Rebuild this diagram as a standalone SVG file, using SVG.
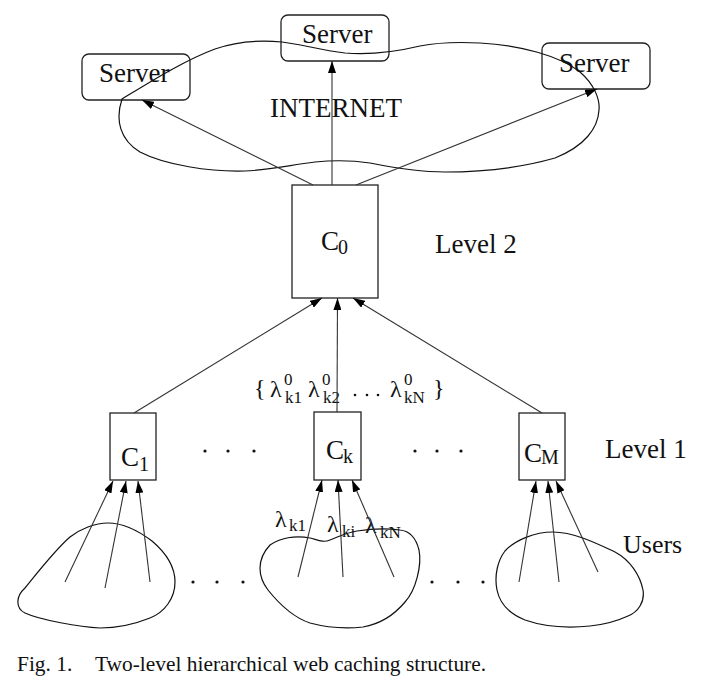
<svg xmlns="http://www.w3.org/2000/svg" width="702" height="698" viewBox="0 0 702 698">
<style>
text{font-family:"Liberation Serif","Times New Roman",serif;fill:#111}
.lbl{font-size:27px}
.sub{font-size:20px}
.lam{font-size:24px}
.ls{font-size:17px}
.box{fill:none;stroke:#222;stroke-width:1.3}
.curve{fill:none;stroke:#111;stroke-width:1.2}
.con{fill:none;stroke:#333;stroke-width:1.1;marker-end:url(#ah)}
.dot{fill:#111}
</style>
<defs>
<marker id="ah" markerUnits="userSpaceOnUse" markerWidth="12" markerHeight="8" refX="12" refY="4" orient="auto">
<path d="M0,0 L12,4 L0,8 z" fill="#000"/>
</marker>
</defs>
<rect width="702" height="698" fill="#fff"/>

<g id="server-left"><rect class="box" x="82" y="54" width="108" height="46" rx="7"/><text class="lbl" x="99" y="82">Server</text></g>
<g id="server-mid"><rect class="box" x="281" y="15" width="108" height="46" rx="7"/><text class="lbl" x="302" y="43">Server</text></g>
<g id="server-right"><rect class="box" x="542" y="43" width="108" height="46" rx="7"/><text class="lbl" x="559" y="72">Server</text></g>

<g id="internet">
<path class="curve" d="M122,99 C150,82 185,60 215,49 C235,42 260,40 282,42 C300,44 320,50 345,53 C370,55 395,52 420,46 C440,42 460,42 480,43 C520,45 560,56 580,72 C595,85 600,100 599,110 C598,128 585,146 555,158 C520,168 480,172 445,172 C420,172 395,168 370,163 C350,160 335,160 315,162 C290,165 270,170 245,171 C210,172 165,165 140,152 C120,140 115,120 122,99 Z"/>
<text class="lbl" x="270" y="117">INTERNET</text>
</g>

<g id="c0"><rect class="box" x="292" y="185" width="86" height="113"/><text class="lbl" x="321" y="250">C</text><text class="sub" x="338" y="254">0</text></g>
<text id="level2" class="lbl" x="435" y="253">Level 2</text>

<g id="c1"><rect class="box" x="110" y="413" width="46" height="67"/><text class="lbl" x="121" y="466">C</text><text class="sub" x="139" y="471">1</text></g>
<g id="ck"><rect class="box" x="314" y="412" width="47" height="68"/><text class="lbl" x="326" y="459">C</text><text class="sub" x="343" y="463">k</text></g>
<g id="cm"><rect class="box" x="519" y="413" width="46" height="67"/><text class="lbl" x="524" y="462">C</text><text class="sub" x="541" y="464">M</text></g>
<text id="level1" class="lbl" x="605" y="458">Level 1</text>

<g id="rates-set">
<text class="lam" x="254" y="396">{</text>
<text class="lam" x="270" y="397">λ</text><text class="ls" x="284" y="385">0</text><text class="ls" x="285" y="403">k1</text>
<text class="lam" x="308" y="397">λ</text><text class="ls" x="322" y="385">0</text><text class="ls" x="323" y="403">k2</text>
<circle class="dot" cx="355" cy="395" r="1.3"/><circle class="dot" cx="367" cy="395" r="1.3"/><circle class="dot" cx="378" cy="395" r="1.3"/>
<text class="lam" x="390" y="397">λ</text><text class="ls" x="404" y="385">0</text><text class="ls" x="404" y="403">kN</text>
<text class="lam" x="433" y="396">}</text>
</g>

<g id="dots">
<circle class="dot" cx="205" cy="451" r="1.6"/><circle class="dot" cx="228" cy="451" r="1.6"/><circle class="dot" cx="254" cy="451" r="1.6"/>
<circle class="dot" cx="415" cy="451" r="1.6"/><circle class="dot" cx="437" cy="451" r="1.6"/><circle class="dot" cx="461" cy="451" r="1.6"/>
<circle class="dot" cx="193" cy="582" r="1.6"/><circle class="dot" cx="217" cy="582" r="1.6"/><circle class="dot" cx="243" cy="582" r="1.6"/>
<circle class="dot" cx="432" cy="582" r="1.6"/><circle class="dot" cx="458" cy="582" r="1.6"/><circle class="dot" cx="483" cy="582" r="1.6"/>
</g>

<g id="users1"><path class="curve" d="M108,523 C125,523 140,532 152,541 C165,552 175,565 175,582 C175,598 165,612 150,618 C135,624 118,628 100,628 C80,627 40,620 25,613 C15,608 16,596 25,588 C38,572 55,550 70,537 C80,529 95,523 108,523 Z"/></g>
<g id="users2">
<path class="curve" d="M270,545 C280,538 295,535 310,538 C318,540 323,543 330,540 C338,537 345,533 357,531 C370,529 385,528 400,530 C410,531 416,538 419,550 C422,565 416,590 405,602 C395,614 380,624 363,627 C345,629 325,627 310,623 C295,618 280,605 268,590 C258,577 256,560 270,545 Z"/>
<text class="lam" x="275" y="527">λ</text><text class="ls" x="289" y="531">k1</text>
<text class="lam" x="327" y="532">λ</text><text class="ls" x="342" y="537">ki</text>
<text class="lam" x="365" y="533">λ</text><text class="ls" x="380" y="538">kN</text>
</g>
<g id="users3">
<path class="curve" d="M553,532 C575,532 600,545 615,552 C630,560 640,575 643,590 C645,602 638,612 628,616 C615,622 600,625 590,626 C570,628 545,627 525,620 C510,614 500,605 497,590 C494,575 498,560 505,551 C515,540 535,532 553,532 Z"/>
<text class="lbl" x="623" y="553" style="font-size:26px">Users</text>
</g>

<g id="connectors">
<line class="con" x1="313" y1="185" x2="142" y2="100"/>
<line class="con" x1="332" y1="185" x2="332" y2="61"/>
<line class="con" x1="356" y1="185" x2="597" y2="89"/>
<line class="con" x1="134" y1="413" x2="322" y2="298"/>
<line class="con" x1="337" y1="412" x2="337.5" y2="298"/>
<line class="con" x1="542" y1="413" x2="353" y2="298"/>
<line class="con" x1="65" y1="582" x2="113" y2="481"/>
<line class="con" x1="105" y1="588" x2="126" y2="481"/>
<line class="con" x1="150" y1="582" x2="138" y2="481"/>
<line class="con" x1="298" y1="577" x2="322" y2="480"/>
<line class="con" x1="343" y1="577" x2="338" y2="480"/>
<line class="con" x1="394" y1="577" x2="352" y2="480"/>
<line class="con" x1="519" y1="582" x2="536" y2="481"/>
<line class="con" x1="559" y1="582" x2="548" y2="481"/>
<line class="con" x1="598" y1="572" x2="556" y2="481"/>
</g>

<text id="caption" x="17" y="671" style="font-size:21.4px">Fig. 1.<tspan x="95">Two-level hierarchical web caching structure.</tspan></text>
</svg>
